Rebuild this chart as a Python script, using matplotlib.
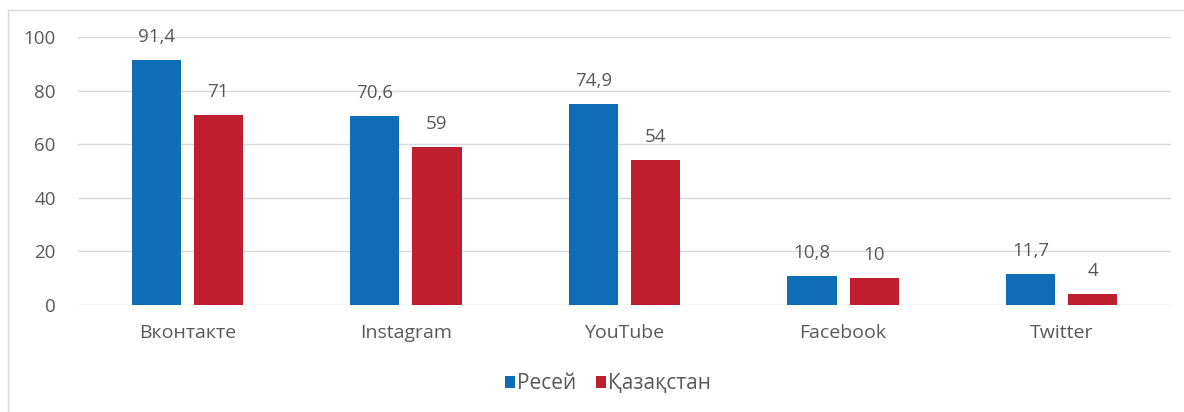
import matplotlib.pyplot as plt
import numpy as np

# Деректер
categories = ["Вконтакте", "Instagram", "YouTube", "Facebook", "Twitter"]
russia = [91.4, 70.6, 74.9, 10.8, 11.7]
kazakhstan = [71, 59, 54, 10, 4]
series_names = ["Ресей", "Қазақстан"]
yticks = [0, 20, 40, 60, 80, 100]

BLUE = "#0F6CB6"
RED = "#BE1E2D"
TEXT = "#595959"
GRID = "#D9D9D9"
FS = 13.5

plt.rcParams['font.family'] = ['Open Sans', 'DejaVu Sans']

fig = plt.figure(figsize=(11.84, 4.12), dpi=100)
ax = fig.add_axes([78 / 1184, 107 / 412, (1171 - 78) / 1184, 268 / 412])

x = np.arange(len(categories))
w = 0.225
off = 0.142
b1 = ax.bar(x - off, russia, w, color=BLUE, label=series_names[0], zorder=3)
b2 = ax.bar(x + off, kazakhstan, w, color=RED, label=series_names[1], zorder=3)

def fmt(v):
    return f"{v:g}".replace(".", ",")

for bars, vals in ((b1, russia), (b2, kazakhstan)):
    for rect, v in zip(bars, vals):
        ax.annotate(fmt(v), (rect.get_x() + rect.get_width() / 2, v),
                    xytext=(0, 10), textcoords="offset points",
                    ha="center", va="bottom", fontsize=FS, color=TEXT,
                    annotation_clip=False)

ax.set_xlim(-0.5, len(categories) - 0.5)
ax.set_ylim(0, 100)
ax.set_yticks(yticks)
ax.set_yticklabels([str(t) for t in yticks])
ax.set_xticks(x)
ax.set_xticklabels(categories)
ax.tick_params(axis="both", length=0, colors=TEXT, labelsize=FS)
ax.tick_params(axis="x", labelsize=14)
ax.tick_params(axis="y", pad=16)
ax.tick_params(axis="x", pad=14)
ax.yaxis.grid(True, color=GRID, linewidth=1, zorder=0)
for s in ax.spines.values():
    s.set_visible(False)

ax.legend(loc="upper center", bbox_to_anchor=(0.485, -0.185), ncol=2, frameon=False,
          fontsize=15, labelcolor=TEXT, handlelength=0.48, handleheight=0.48,
          handletextpad=0.1, columnspacing=0.95)

# рамка
fig.add_artist(plt.Line2D([8 / 1184, 8 / 1184], [0, 402 / 412], color=GRID, linewidth=1))
fig.add_artist(plt.Line2D([8 / 1184, 1], [402 / 412, 402 / 412], color=GRID, linewidth=1))

fig.savefig("out.png", dpi=100)
